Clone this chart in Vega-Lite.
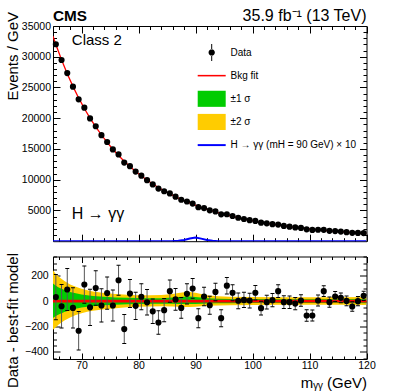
{
  "$schema": "https://vega.github.io/schema/vega-lite/v6.json",
  "background": "white",
  "padding": {"left": 5, "top": 7, "right": 5, "bottom": 0},
  "spacing": 14.5,
  "bounds": "flush",
  "config": {
    "font": "Liberation Sans",
    "view": {"stroke": "black", "strokeWidth": 1},
    "axis": {"grid": false, "domain": false, "labelFont": "Liberation Sans", "labelFontSize": 10.5, "labelColor": "black", "tickColor": "black", "tickWidth": 1, "titleFont": "Liberation Sans", "titleFontSize": 15, "titleFontWeight": "normal", "titleColor": "black", "labelFlush": false, "labelOverlap": false}
  },
  "datasets": {
    "fit": [
      {"m":65,"fit":33339},{"m":65.5,"fit":32000},{"m":66.5,"fit":29508},{"m":67.5,"fit":27244},{"m":68.5,"fit":25183},{"m":69.5,"fit":23304},{"m":70.5,"fit":21589},{"m":71.5,"fit":20022},{"m":72.5,"fit":18588},{"m":73.5,"fit":17275},{"m":74.5,"fit":16070},{"m":75.5,"fit":14963},{"m":76.5,"fit":13947},{"m":77.5,"fit":13010},{"m":78.5,"fit":12148},{"m":79.5,"fit":11353},{"m":80.5,"fit":10618},{"m":81.5,"fit":9940},{"m":82.5,"fit":9312},{"m":83.5,"fit":8730},{"m":84.5,"fit":8192},{"m":85.5,"fit":7692},{"m":86.5,"fit":7228},{"m":87.5,"fit":6797},{"m":88.5,"fit":6396},{"m":89.5,"fit":6023},{"m":90.5,"fit":5675},{"m":91.5,"fit":5351},{"m":92.5,"fit":5049},{"m":93.5,"fit":4767},{"m":94.5,"fit":4503},{"m":95.5,"fit":4256},{"m":96.5,"fit":4026},{"m":97.5,"fit":3810},{"m":98.5,"fit":3607},{"m":99.5,"fit":3418},{"m":100.5,"fit":3239},{"m":101.5,"fit":3072},{"m":102.5,"fit":2916},{"m":103.5,"fit":2768},{"m":104.5,"fit":2629},{"m":105.5,"fit":2499},{"m":106.5,"fit":2376},{"m":107.5,"fit":2260},{"m":108.5,"fit":2150},{"m":109.5,"fit":2047},{"m":110.5,"fit":1950},{"m":111.5,"fit":1858},{"m":112.5,"fit":1772},{"m":113.5,"fit":1690},{"m":114.5,"fit":1612},{"m":115.5,"fit":1539},{"m":116.5,"fit":1470},{"m":117.5,"fit":1404},{"m":118.5,"fit":1342},{"m":119.5,"fit":1283},{"m":120,"fit":1254}
    ],
    "sig": [
      {"m":65,"sig":0},{"m":84,"sig":0},{"m":85,"sig":4},{"m":86,"sig":15},{"m":87,"sig":60},{"m":88,"sig":190},{"m":89,"sig":430},{"m":90,"sig":600},{"m":91,"sig":420},{"m":92,"sig":180},{"m":93,"sig":55},{"m":94,"sig":12},{"m":95,"sig":3},{"m":96,"sig":0},{"m":120,"sig":0}
    ],
    "pts": [
      {"m":65.5,"ev":32032,"res":32,"lo":-147,"hi":211},
      {"m":66.5,"ev":29468,"res":-40,"lo":-212,"hi":132},
      {"m":67.5,"ev":27336,"res":92,"lo":-73,"hi":257},
      {"m":68.5,"ev":25130,"res":-53,"lo":-212,"hi":106},
      {"m":69.5,"ev":23071,"res":-233,"lo":-385,"hi":-81},
      {"m":70.5,"ev":21720,"res":131,"lo":-16,"hi":278},
      {"m":71.5,"ev":19973,"res":-49,"lo":-191,"hi":93},
      {"m":72.5,"ev":18692,"res":104,"lo":-32,"hi":240},
      {"m":73.5,"ev":17241,"res":-34,"lo":-165,"hi":97},
      {"m":74.5,"ev":16134,"res":64,"lo":-63,"hi":191},
      {"m":75.5,"ev":14929,"res":-34,"lo":-156,"hi":88},
      {"m":76.5,"ev":14112,"res":165,"lo":47,"hi":283},
      {"m":77.5,"ev":12790,"res":-220,"lo":-334,"hi":-106},
      {"m":78.5,"ev":12208,"res":60,"lo":-50,"hi":170},
      {"m":79.5,"ev":11316,"res":-37,"lo":-144,"hi":70},
      {"m":80.5,"ev":10653,"res":35,"lo":-68,"hi":138},
      {"m":81.5,"ev":9931,"res":-9,"lo":-109,"hi":91},
      {"m":82.5,"ev":9232,"res":-80,"lo":-177,"hi":17},
      {"m":83.5,"ev":8562,"res":-168,"lo":-261,"hi":-75},
      {"m":84.5,"ev":8121,"res":-71,"lo":-162,"hi":20},
      {"m":85.5,"ev":7771,"res":79,"lo":-9,"hi":167},
      {"m":86.5,"ev":7242,"res":14,"lo":-71,"hi":99},
      {"m":87.5,"ev":6744,"res":-53,"lo":-135,"hi":29},
      {"m":88.5,"ev":6454,"res":58,"lo":-22,"hi":138},
      {"m":89.5,"ev":6123,"res":100,"lo":22,"hi":178},
      {"m":90.5,"ev":5541,"res":-134,"lo":-209,"hi":-59},
      {"m":91.5,"ev":5388,"res":37,"lo":-36,"hi":110},
      {"m":92.5,"ev":5017,"res":-32,"lo":-103,"hi":39},
      {"m":93.5,"ev":4840,"res":73,"lo":4,"hi":142},
      {"m":94.5,"ev":4369,"res":-134,"lo":-201,"hi":-67},
      {"m":95.5,"ev":4378,"res":122,"lo":57,"hi":187},
      {"m":96.5,"ev":4092,"res":66,"lo":3,"hi":129},
      {"m":97.5,"ev":3813,"res":3,"lo":-59,"hi":65},
      {"m":98.5,"ev":3617,"res":10,"lo":-50,"hi":70},
      {"m":99.5,"ev":3423,"res":5,"lo":-53,"hi":63},
      {"m":100.5,"ev":3305,"res":66,"lo":9,"hi":123},
      {"m":101.5,"ev":3017,"res":-55,"lo":-110,"hi":0},
      {"m":102.5,"ev":2908,"res":-8,"lo":-62,"hi":46},
      {"m":103.5,"ev":2776,"res":8,"lo":-45,"hi":61},
      {"m":104.5,"ev":2708,"res":79,"lo":28,"hi":130},
      {"m":105.5,"ev":2491,"res":-8,"lo":-58,"hi":42},
      {"m":106.5,"ev":2368,"res":-8,"lo":-57,"hi":41},
      {"m":107.5,"ev":2241,"res":-19,"lo":-67,"hi":29},
      {"m":108.5,"ev":2155,"res":5,"lo":-41,"hi":51},
      {"m":109.5,"ev":1934,"res":-113,"lo":-158,"hi":-68},
      {"m":110.5,"ev":1837,"res":-113,"lo":-157,"hi":-69},
      {"m":111.5,"ev":1863,"res":5,"lo":-38,"hi":48},
      {"m":112.5,"ev":1851,"res":79,"lo":37,"hi":121},
      {"m":113.5,"ev":1682,"res":-8,"lo":-49,"hi":33},
      {"m":114.5,"ev":1649,"res":37,"lo":-3,"hi":77},
      {"m":115.5,"ev":1565,"res":26,"lo":-13,"hi":65},
      {"m":116.5,"ev":1472,"res":2,"lo":-36,"hi":40},
      {"m":117.5,"ev":1362,"res":-42,"lo":-79,"hi":-5},
      {"m":118.5,"ev":1342,"res":0,"lo":-37,"hi":37},
      {"m":119.5,"ev":1325,"res":42,"lo":6,"hi":78}
    ],
    "band": [
      {"m":65,"lo2":-225,"lo1":-132,"hi1":140,"hi2":243},
      {"m":65.5,"lo2":-205,"lo1":-118,"hi1":122,"hi2":215},
      {"m":66,"lo2":-185,"lo1":-105,"hi1":108,"hi2":192},
      {"m":67,"lo2":-152,"lo1":-86,"hi1":88,"hi2":158},
      {"m":68,"lo2":-128,"lo1":-72,"hi1":73,"hi2":132},
      {"m":69,"lo2":-110,"lo1":-60,"hi1":62,"hi2":113},
      {"m":70,"lo2":-95,"lo1":-51,"hi1":53,"hi2":98},
      {"m":71,"lo2":-84,"lo1":-45,"hi1":46,"hi2":86},
      {"m":72,"lo2":-75,"lo1":-40,"hi1":41,"hi2":77},
      {"m":74,"lo2":-63,"lo1":-33,"hi1":34,"hi2":64},
      {"m":76,"lo2":-55,"lo1":-28,"hi1":29,"hi2":56},
      {"m":78,"lo2":-49,"lo1":-25,"hi1":26,"hi2":50},
      {"m":80,"lo2":-45,"lo1":-23,"hi1":24,"hi2":47},
      {"m":82,"lo2":-42,"lo1":-21,"hi1":23,"hi2":46},
      {"m":84,"lo2":-40,"lo1":-20,"hi1":23,"hi2":48},
      {"m":86,"lo2":-42,"lo1":-21,"hi1":28,"hi2":56},
      {"m":87,"lo2":-44,"lo1":-22,"hi1":32,"hi2":64},
      {"m":88,"lo2":-46,"lo1":-23,"hi1":35,"hi2":70},
      {"m":89,"lo2":-46,"lo1":-23,"hi1":36,"hi2":72},
      {"m":90,"lo2":-44,"lo1":-22,"hi1":33,"hi2":66},
      {"m":91,"lo2":-40,"lo1":-20,"hi1":28,"hi2":56},
      {"m":92,"lo2":-37,"lo1":-19,"hi1":23,"hi2":46},
      {"m":94,"lo2":-34,"lo1":-17,"hi1":19,"hi2":38},
      {"m":96,"lo2":-32,"lo1":-16,"hi1":17,"hi2":34},
      {"m":100,"lo2":-30,"lo1":-15,"hi1":16,"hi2":32},
      {"m":105,"lo2":-29,"lo1":-15,"hi1":15,"hi2":30},
      {"m":110,"lo2":-29,"lo1":-15,"hi1":15,"hi2":30},
      {"m":115,"lo2":-29,"lo1":-15,"hi1":15,"hi2":30},
      {"m":120,"lo2":-31,"lo1":-16,"hi1":16,"hi2":32}
    ],
    "entries": [
      {"entry":"Data"},{"entry":"Bkg fit"},{"entry":"±1 σ"},{"entry":"±2 σ"},{"entry":"H → γγ (mH = 90 GeV) × 10"}
    ],
    "one": [{}]
  },
  "vconcat": [
    {
      "width": 313.5,
      "height": 215.2,
      "resolve": {"axis": {"x": "independent", "y": "independent"}},
      "layer": [
        {
          "data": {"name": "fit"},
          "mark": {"type": "line", "color": "#ff0000", "strokeWidth": 1.3, "clip": true},
          "encoding": {
            "x": {"field": "m", "type": "quantitative", "scale": {"domain": [65, 120], "nice": false, "zero": false},
                  "axis": {"orient": "bottom", "values": [70,80,90,100,110,120], "tickSize": -7, "labels": false, "title": null}},
            "y": {"field": "fit", "type": "quantitative", "scale": {"domain": [0, 35000], "nice": false, "zero": false},
                  "axis": {"orient": "left", "values": [5000,10000,15000,20000,25000,30000,35000], "tickSize": -7, "labelPadding": 9.5, "format": "d",
                           "title": "Events / GeV", "titleX": -35.5, "titleY": -14.5, "titleAngle": 270, "titleAlign": "right", "titleBaseline": "alphabetic"}}
          }
        },
        {
          "data": {"name": "sig"},
          "mark": {"type": "line", "color": "#0000ff", "strokeWidth": 2, "clip": true},
          "encoding": {
            "x": {"field": "m", "type": "quantitative", "scale": {"domain": [65, 120], "nice": false, "zero": false},
                  "axis": {"orient": "bottom", "values": [66,68,72,74,76,78,82,84,86,88,92,94,96,98,102,104,106,108,112,114,116,118], "tickSize": -3.5, "labels": false, "title": null}},
            "y": {"field": "sig", "type": "quantitative", "scale": {"domain": [0, 35000], "nice": false, "zero": false},
                  "axis": {"orient": "left", "values": [1000,2000,3000,4000,6000,7000,8000,9000,11000,12000,13000,14000,16000,17000,18000,19000,21000,22000,23000,24000,26000,27000,28000,29000,31000,32000,33000,34000], "tickSize": -3.5, "labels": false, "title": null}}
          }
        },
        {
          "data": {"name": "pts"},
          "mark": {"type": "circle", "size": 38, "color": "black", "opacity": 1},
          "encoding": {
            "x": {"field": "m", "type": "quantitative", "scale": {"domain": [65, 120], "nice": false, "zero": false},
                  "axis": {"orient": "top", "values": [70,80,90,100,110,120], "tickSize": -7, "labels": false, "title": null}},
            "y": {"field": "ev", "type": "quantitative", "scale": {"domain": [0, 35000], "nice": false, "zero": false},
                  "axis": {"orient": "right", "values": [5000,10000,15000,20000,25000,30000,35000], "tickSize": -7, "labels": false, "title": null}}
          }
        },
        {
          "data": {"name": "one"},
          "mark": {"type": "text", "text": "CMS", "font": "Liberation Sans", "fontSize": 15.3, "fontWeight": "bold", "align": "left", "baseline": "alphabetic", "dy": -5.5, "color": "black"},
          "encoding": {
            "x": {"datum": 65, "type": "quantitative", "scale": {"domain": [65, 120], "nice": false, "zero": false},
                  "axis": {"orient": "top", "values": [66,68,72,74,76,78,82,84,86,88,92,94,96,98,102,104,106,108,112,114,116,118], "tickSize": -3.5, "labels": false, "title": null}},
            "y": {"datum": 35000, "type": "quantitative", "scale": {"domain": [0, 35000], "nice": false, "zero": false},
                  "axis": {"orient": "right", "values": [1000,2000,3000,4000,6000,7000,8000,9000,11000,12000,13000,14000,16000,17000,18000,19000,21000,22000,23000,24000,26000,27000,28000,29000,31000,32000,33000,34000], "tickSize": -3.5, "labels": false, "title": null}}
          }
        },
        {
          "data": {"name": "one"},
          "mark": {"type": "text", "text": "35.9 fb⁻¹ (13 TeV)", "font": "Liberation Sans", "fontSize": 16, "align": "right", "baseline": "alphabetic", "dy": -5.5, "color": "black"},
          "encoding": {
            "x": {"datum": 120, "type": "quantitative", "axis": null},
            "y": {"datum": 35000, "type": "quantitative", "axis": null}
          }
        },
        {
          "data": {"name": "one"},
          "mark": {"type": "text", "text": "Class 2", "font": "Liberation Sans", "fontSize": 15, "align": "left", "baseline": "alphabetic", "color": "black"},
          "encoding": {
            "x": {"datum": 68.3, "type": "quantitative", "axis": null},
            "y": {"datum": 31985, "type": "quantitative", "axis": null}
          }
        },
        {
          "data": {"name": "one"},
          "mark": {"type": "text", "text": "H → γγ", "font": "Liberation Sans", "fontSize": 16, "align": "left", "baseline": "alphabetic", "color": "black"},
          "encoding": {
            "x": {"datum": 68.3, "type": "quantitative", "axis": null},
            "y": {"datum": 3640, "type": "quantitative", "axis": null}
          }
        },
        {
          "data": {"name": "entries"},
          "mark": {"type": "point", "filled": true, "opacity": 0},
          "encoding": {
            "color": {"field": "entry", "type": "nominal",
              "scale": {"domain": ["Data","Bkg fit","±1 σ","±2 σ","H → γγ (mH = 90 GeV) × 10"], "range": ["#000000","#ff0000","#00cc00","#ffcc00","#0000ff"]},
              "legend": {"title": null, "orient": "none", "legendX": 144.7, "legendY": 19.5, "padding": 0, "symbolSize": 196, "symbolStrokeWidth": 0, "symbolOpacity": 1, "labelFont": "Liberation Sans", "labelFontSize": 10, "labelColor": "black", "labelOffset": 11.8, "symbolOffset": 7, "rowPadding": 5.15}},
            "shape": {"field": "entry", "type": "nominal",
              "scale": {"domain": ["Data","Bkg fit","±1 σ","±2 σ","H → γγ (mH = 90 GeV) × 10"],
                        "range": ["M0,-1.25M0,1.25M-0.45,0A0.45,0.45,0,1,0,0.45,0A0.45,0.45,0,1,0,-0.45,0ZM-0.07,-1.2H0.07V-0.4H-0.07ZM-0.07,0.4H0.07V1.2H-0.07Z", "M0,-1.25M0,1.25M-2,-0.11H2V0.11H-2Z", "M0,-1.25M0,1.25M-2,-1.15H2V1.15H-2Z", "M0,-1.25M0,1.25M-2,-1.15H2V1.15H-2Z", "M0,-1.25M0,1.25M-2,-0.14H2V0.14H-2Z"]},
              "legend": {"title": null, "orient": "none", "legendX": 144.7, "legendY": 19.5, "padding": 0, "symbolSize": 196, "symbolStrokeWidth": 0, "symbolOpacity": 1, "labelFont": "Liberation Sans", "labelFontSize": 10, "labelColor": "black", "labelOffset": 11.8, "symbolOffset": 7, "rowPadding": 5.15}}
          }
        }
      ]
    },
    {
      "width": 313.5,
      "height": 102.5,
      "resolve": {"axis": {"x": "independent", "y": "independent"}},
      "layer": [
        {
          "data": {"name": "band"},
          "mark": {"type": "area", "color": "#ffcc00", "opacity": 1, "clip": true},
          "encoding": {
            "x": {"field": "m", "type": "quantitative", "scale": {"domain": [65, 120], "nice": false, "zero": false},
                  "axis": {"orient": "bottom", "values": [70,80,90,100,110,120], "tickSize": -6, "labelPadding": 7.5, "format": "d",
                           "title": "mᵧᵧ (GeV)", "titleX": 313.5, "titleY": 28, "titleAngle": 0, "titleAlign": "right", "titleBaseline": "alphabetic"}},
            "y": {"field": "lo2", "type": "quantitative", "scale": {"domain": [-456, 352], "nice": false, "zero": false},
                  "axis": {"orient": "left", "values": [-400,-200,0,200], "tickSize": -7, "labelPadding": 11.8, "format": "d",
                           "title": "Data - best-fit model", "titleX": -35.5, "titleY": -4, "titleAngle": 270, "titleAlign": "right", "titleBaseline": "alphabetic"}},
            "y2": {"field": "hi2"}
          }
        },
        {
          "data": {"name": "band"},
          "mark": {"type": "area", "color": "#00cc00", "opacity": 1, "clip": true},
          "encoding": {
            "x": {"field": "m", "type": "quantitative", "scale": {"domain": [65, 120], "nice": false, "zero": false},
                  "axis": {"orient": "bottom", "values": [66,68,72,74,76,78,82,84,86,88,92,94,96,98,102,104,106,108,112,114,116,118], "tickSize": -3, "labels": false, "title": null}},
            "y": {"field": "lo1", "type": "quantitative", "scale": {"domain": [-456, 352], "nice": false, "zero": false},
                  "axis": {"orient": "left", "values": [-450,-350,-300,-250,-150,-100,-50,50,100,150,250,300,350], "tickSize": -3.5, "labels": false, "title": null}},
            "y2": {"field": "hi1"}
          }
        },
        {
          "data": {"name": "one"},
          "mark": {"type": "rule", "color": "#ff0000", "strokeWidth": 2.7},
          "encoding": {
            "y": {"datum": 0, "type": "quantitative", "scale": {"domain": [-456, 352], "nice": false, "zero": false},
                  "axis": {"orient": "right", "values": [-400,-200,0,200], "tickSize": -7, "labels": false, "title": null}}
          }
        },
        {
          "data": {"name": "pts"},
          "mark": {"type": "rule", "color": "#555555", "strokeWidth": 1, "clip": true},
          "encoding": {
            "x": {"field": "m", "type": "quantitative", "scale": {"domain": [65, 120], "nice": false, "zero": false},
                  "axis": {"orient": "top", "values": [70,80,90,100,110,120], "tickSize": -6, "labels": false, "title": null}},
            "y": {"field": "lo", "type": "quantitative", "scale": {"domain": [-456, 352], "nice": false, "zero": false},
                  "axis": {"orient": "right", "values": [-450,-350,-300,-250,-150,-100,-50,50,100,150,250,300,350], "tickSize": -3.5, "labels": false, "title": null}},
            "y2": {"field": "hi"}
          }
        },
        {
          "data": {"name": "pts"},
          "mark": {"type": "tick", "orient": "horizontal", "size": 4, "thickness": 1, "color": "black", "opacity": 1, "clip": true},
          "encoding": {
            "x": {"field": "m", "type": "quantitative", "scale": {"domain": [65, 120], "nice": false, "zero": false},
                  "axis": {"orient": "top", "values": [66,68,72,74,76,78,82,84,86,88,92,94,96,98,102,104,106,108,112,114,116,118], "tickSize": -3, "labels": false, "title": null}},
            "y": {"field": "lo", "type": "quantitative", "scale": {"domain": [-456, 352], "nice": false, "zero": false}, "axis": null}
          }
        },
        {
          "data": {"name": "pts"},
          "mark": {"type": "tick", "orient": "horizontal", "size": 4, "thickness": 1, "color": "black", "opacity": 1, "clip": true},
          "encoding": {
            "x": {"field": "m", "type": "quantitative", "axis": null},
            "y": {"field": "hi", "type": "quantitative", "axis": null}
          }
        },
        {
          "data": {"name": "pts"},
          "mark": {"type": "circle", "size": 38, "color": "black", "opacity": 1, "clip": true},
          "encoding": {
            "x": {"field": "m", "type": "quantitative", "axis": null},
            "y": {"field": "res", "type": "quantitative", "axis": null}
          }
        }
      ]
    }
  ]
}
